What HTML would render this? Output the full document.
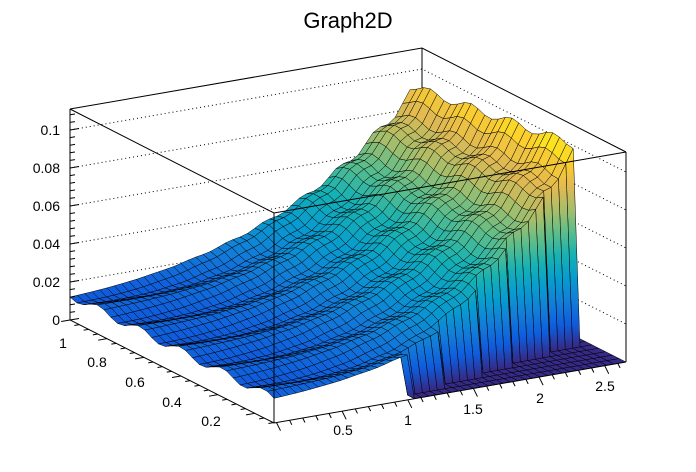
<!DOCTYPE html>
<html><head><meta charset="utf-8"><style>
html,body{margin:0;padding:0;background:#fff;}
svg{display:block;font-family:"Liberation Sans",Arial,sans-serif;}
</style></head><body>
<svg id="s" width="696" height="472" viewBox="0 0 696 472" xmlns="http://www.w3.org/2000/svg">
<defs id="defs"></defs>
<text x="348" y="28" text-anchor="middle" font-size="22">Graph2D</text>
<g id="back"></g><g id="surf"></g><g id="front"></g><g id="axes" font-size="14"></g>
</svg>
<script>
var NS="http://www.w3.org/2000/svg";
function el(p,n,a,t){var e=document.createElementNS(NS,n);for(var k in a)e.setAttribute(k,a[k]);if(t!==undefined)e.textContent=t;p.appendChild(e);return e;}
var ZS=1900;
function P(t,u,z){return [274+352*t-204*u, 423-61*t-103*u-ZS*z];}
var defs=document.getElementById('defs'),back=document.getElementById('back'),surf=document.getElementById('surf'),front=document.getElementById('front'),axes=document.getElementById('axes');
el(back,'path',{d:'M70,109 L422,48 L626,152 M422,48 L422,259',stroke:'#000','stroke-width':1,fill:'none'});
for(var k=1;k<=5;k++){var z=k*0.02;var a=P(0,1,z),b=P(1,1,z),c=P(1,0,z);
 el(back,'path',{d:'M'+a+' L'+b+' L'+c,stroke:'#000','stroke-width':1,'stroke-dasharray':'1,3',fill:'none'});}
var pal=[[53,42,135],[15,92,221],[18,125,216],[7,156,207],[21,177,180],[89,189,140],[165,190,107],[225,185,82],[252,206,46],[249,251,14]];
function col(z){var f=Math.max(0,Math.min(1,z/0.108))*(pal.length-1);var i=Math.min(pal.length-2,Math.floor(f)),r=f-i;
 var c=pal[i],d=pal[i+1];return 'rgb('+Math.round(c[0]+(d[0]-c[0])*r)+','+Math.round(c[1]+(d[1]-c[1])*r)+','+Math.round(c[2]+(d[2]-c[2])*r)+')';}
var TM=0.966,NT=46,NU=30;
function Z(t,u){
 if(t>=0.38){var uc=0.03+(t-0.38)*0.28;if(u<uc)return 0;}
 var g=Math.pow(t/TM,2.5);
 return 0.013+0.092*g*(1-0.17*u)+0.0022*Math.sin(u*31+t*5)+0.003*Math.sin(t*60)*g;}
var quads=[];
for(var i=0;i<NT;i++)for(var j=0;j<NU;j++){
 var t0=i/NT*TM,t1=(i+1)/NT*TM,u0=j/NU,u1=(j+1)/NU;
 var zs=[Z(t0,u0),Z(t1,u0),Z(t1,u1),Z(t0,u1)];
 var zmin=Math.min.apply(null,zs),zmax=Math.max.apply(null,zs);
 quads.push({d:t0+t1+(u0+u1)*1.2,p:[P(t0,u0,zs[0]),P(t1,u0,zs[1]),P(t1,u1,zs[2]),P(t0,u1,zs[3])],z:(zs[0]+zs[1]+zs[2]+zs[3])/4,wall:(zmax-zmin>0.015),base:P((t0+t1)/2,(u0+u1)/2,0)});
}
for(var j=0;j<NU;j++){var u0=j/NU,u1=(j+1)/NU;quads.push({d:TM+1+(u0+u1)*1.2+0.5,p:[P(TM,u0,0),P(1,u0,0),P(1,u1,0),P(TM,u1,0)],z:0});}
quads.sort(function(a,b){return b.d-a.d;});
var gid=0;
quads.forEach(function(q){var s='M'+q.p.map(function(p){return p[0].toFixed(1)+','+p[1].toFixed(1);}).join(' L')+'Z';
 var fill=col(q.z);
 if(q.wall){var id='g'+(gid++);var y0=q.base[1];
  var lg=el(defs,'linearGradient',{id:id,gradientUnits:'userSpaceOnUse',x1:0,y1:y0,x2:0,y2:y0-ZS*0.108});
  for(var k=0;k<=9;k++)el(lg,'stop',{offset:k/9,'stop-color':col(k/9*0.108)});
  fill='url(#'+id+')';}
 el(surf,'path',{d:s,fill:fill,stroke:'#000','stroke-width':0.5,'stroke-linejoin':'round'});});
el(front,'path',{d:'M70,109 L274,213 L626,152 M274,213 L274,423 M626,152 L626,362 M70,109 L70,320 L274,423 L626,362',stroke:'#000','stroke-width':1,fill:'none'});
for(var k=0;k<=27;k++){var z=k*0.004;var y=320-ZS*z;var big=(k%5==0);
 el(axes,'line',{x1:70,y1:y,x2:70+(big?9:5),y2:y-(big?1.5:0.8),stroke:'#000','stroke-width':1});}
['0','0.02','0.04','0.06','0.08','0.1'].forEach(function(l,k){el(axes,'text',{x:60,y:320-ZS*0.02*k+5,'text-anchor':'end'},l);});
function uy(y){return 1-(1-y)*0.906;}
for(var k=0;k<=22;k++){var yv=1-k*0.05;var u=uy(yv);if(u<0)break;var a=P(0,u,0);var big=(k%4==0);var L=big?9:5;
 el(axes,'line',{x1:a[0],y1:a[1],x2:a[0]-L*0.98,y2:a[1]+L*0.17,stroke:'#000','stroke-width':1});}
[['1',63,348],['0.8',97,367],['0.6',135,387],['0.4',172,407],['0.2',211,426]].forEach(function(l){el(axes,'text',{x:l[1],y:l[2],'text-anchor':'middle'},l[0]);});
function tx(x){return 0.38+(x-1)*0.373;}
for(var k=0;k<=27;k++){var xv=k*0.1;var t=tx(xv);if(t<0||t>1)continue;var a=P(t,0,0);var big=(k%5==0);var L=big?9:5;
 el(axes,'line',{x1:a[0],y1:a[1],x2:a[0]+L*0.45,y2:a[1]+L*0.9,stroke:'#000','stroke-width':1});}
[['0.5',343,435],['1',408,425],['1.5',473,414],['2',540,403],['2.5',605,391]].forEach(function(l){el(axes,'text',{x:l[1],y:l[2],'text-anchor':'middle'},l[0]);});
</script>
</body></html>
